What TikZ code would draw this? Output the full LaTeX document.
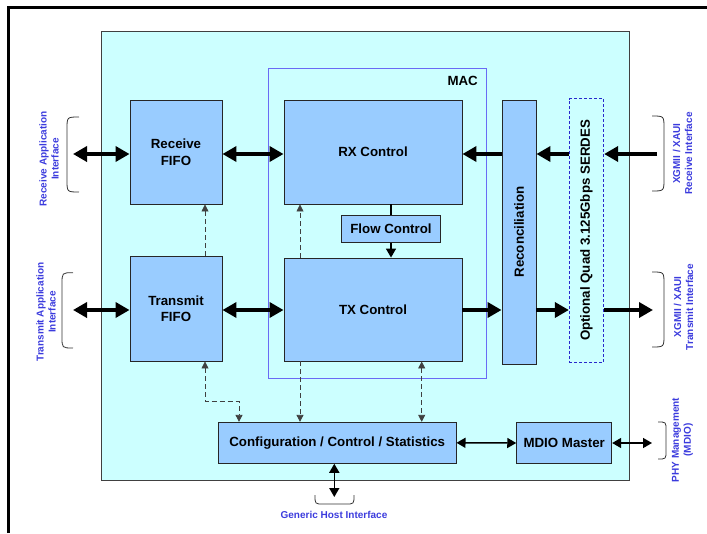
\documentclass[tikz,border=0pt]{standalone}
\usepackage{fontspec}
\setmainfont{Liberation Sans}
\usetikzlibrary{arrows.meta}
\definecolor{cyanbg}{HTML}{CCFFFF}
\definecolor{boxfill}{HTML}{99CCFF}
\definecolor{macblue}{HTML}{6A6AF5}
\definecolor{lblblue}{HTML}{3B3BDD}
\definecolor{serdesblue}{HTML}{2828CC}
\tikzset{
  dtip/.tip={Triangle[length=7pt,width=7pt]},
  ftip/.tip={Triangle[length=14pt,width=15pt]},
  ttip/.tip={Triangle[length=9pt,width=10pt]},
  blk/.style={draw=black!85, fill=boxfill, line width=0.9pt, inner sep=0pt, font=\fontsize{13.3}{16.5}\selectfont\bfseries, align=center},
  lbl/.style={text=lblblue, font=\fontsize{10}{12}\selectfont\bfseries, align=center, inner sep=0pt},
  fat/.style={line width=4pt, {ftip}-{ftip}},
  fato/.style={line width=4pt, -{ftip}},
  thin2/.style={line width=1.5pt, {ttip}-{ttip}},
  dsh/.style={line width=0.8pt, dash pattern=on 5pt off 3pt, black!75},
  brc/.style={line width=0.8pt, black!80}
}
\begin{document}
\begin{tikzpicture}[x=1pt,y=-1pt]
\useasboundingbox (0,0) rectangle (707,533);
% frame
\draw[line width=3pt] (8,533) -- (8,7.5) -- (707,7.5);
% backgrounds
\draw[fill=cyanbg, draw=black!75, line width=0.9pt] (101,31.7) rectangle (629,480);
\draw[draw=macblue, line width=0.9pt] (268,68) rectangle (486,378);
\node[font=\fontsize{13.3}{15}\selectfont\bfseries, anchor=east, inner sep=0pt] (mac) at (478,81) {MAC};
% blocks
\node[blk, minimum width=92pt, minimum height=104pt] (rxf) at (176,152) {Receive\\FIFO};
\node[blk, minimum width=92pt, minimum height=105pt] (txf) at (176,308.5) {Transmit\\FIFO};
\node[blk, minimum width=178pt, minimum height=104pt] (rxc) at (373,152) {RX Control};
\node[blk, minimum width=178pt, minimum height=103pt] (txc) at (373,309.5) {TX Control};
\node[blk, minimum width=98.6pt, minimum height=27.3pt] (fc) at (391,228.6) {Flow Control};
\node[blk, minimum width=34pt, minimum height=264pt] (rec) at (519,232) {};
\node[font=\fontsize{13.3}{15}\selectfont\bfseries, rotate=90] (rect) at (rec.center) {Reconciliation};
\node[draw=serdesblue, dash pattern=on 3pt off 2pt, line width=0.9pt, minimum width=34.4pt, minimum height=263.6pt, inner sep=0pt] (ser) at (586.5,230.5) {};
\node[font=\fontsize{13.3}{15}\selectfont\bfseries, rotate=90] (sert) at (ser.center) {Optional Quad 3.125Gbps SERDES};
\node[blk, minimum width=237.7pt, minimum height=41pt] (cfg) at (337.2,442.8) {Configuration / Control / Statistics};
\node[blk, minimum width=95pt, minimum height=41.4pt] (mdio) at (564.2,443) {MDIO Master};
% external coordinates
\coordinate (rxapp) at (73,154);
\coordinate (txapp) at (73,310);
\coordinate (xrx) at (657,154);
\coordinate (xtx) at (653,310);
\coordinate (phy) at (652,443);
\coordinate (host) at (334.3,497);
% thick data arrows
\draw[fat] (rxapp) -- (rxapp -| rxf.west);
\draw[fat] (rxf.east |- 0,154) -- (rxc.west |- 0,154);
\draw[fat] (txapp) -- (txapp -| txf.west);
\draw[fat] (txf.east |- 0,310) -- (txc.west |- 0,310);
\draw[fato] (xrx) -- (xrx -| ser.east);
\draw[fato] (ser.west |- 0,154) -- (rec.east |- 0,154);
\draw[fato] (rec.west |- 0,154) -- (rxc.east |- 0,154);
\draw[fato] (txc.east |- 0,310) -- (rec.west |- 0,310);
\draw[fato] (rec.east |- 0,310) -- (ser.west |- 0,310);
\draw[fato] (ser.east |- 0,310) -- (xtx);
% flow control
\draw[line width=1.5pt] (rxc.south -| fc.north) -- (fc.north);
\draw[line width=1.5pt, -{ttip}] (fc.south) -- (fc.south |- txc.north);
% thin management arrows
\draw[thin2] (cfg.east) -- (mdio.west);
\draw[thin2] (mdio.east) -- (phy);
\draw[thin2] (cfg.south -| host) -- (host);
% dashed control arrows
\draw[dsh, -{dtip}] (txf.north -| 205,0) -- (rxf.south -| 205,0);
\draw[dsh, {dtip}-{dtip}] (txf.south -| 205,0) -- (205,401.7) -| (cfg.north -| 239,0);
\draw[dsh, -{dtip}] (txc.north -| 300,0) -- (rxc.south -| 300,0);
\draw[dsh, -{dtip}] (txc.south -| 300,0) -- (cfg.north -| 300,0);
\draw[dsh, {dtip}-{dtip}] (txc.south -| 421.7,0) -- (cfg.north -| 421.7,0);
% braces
\draw[brc] (79,117) .. controls (67,117) .. (67,129) -- (67,180) .. controls (67,192) .. (79,192);
\draw[brc] (73,272.7) .. controls (62,272.7) .. (62,284) -- (62,337) .. controls (62,348) .. (73,348);
\draw[brc] (652,116) .. controls (664,116) .. (664,128) -- (664,179) .. controls (664,191) .. (652,191);
\draw[brc] (652,272) .. controls (664,272) .. (664,284) -- (664,335) .. controls (664,347) .. (652,347);
\draw[brc] (658,422) .. controls (666,422) .. (666,430) -- (666,451) .. controls (666,459) .. (658,459);
\draw[brc] (315,495) .. controls (315,504) .. (323,504) -- (346,504) .. controls (354,504) .. (354,495);
% labels
\node[lbl, rotate=90] (lrx) at (49,159) {Receive Application\\Interface};
\node[lbl, rotate=90] (ltx) at (46,312) {Transmit Application\\Interface};
\node[lbl, rotate=90] (lxrx) at (682.5,153.5) {XGMII / XAUI\\Receive Interface};
\node[lbl, rotate=90] (lxtx) at (683.5,307) {XGMII / XAUI\\Transmit Interface};
\node[lbl, rotate=90] (lphy) at (682.5,440) {PHY Management\\(MDIO)};
\node[lbl] (lhost) at (334,514.5) {Generic Host Interface};
\end{tikzpicture}
\end{document}
